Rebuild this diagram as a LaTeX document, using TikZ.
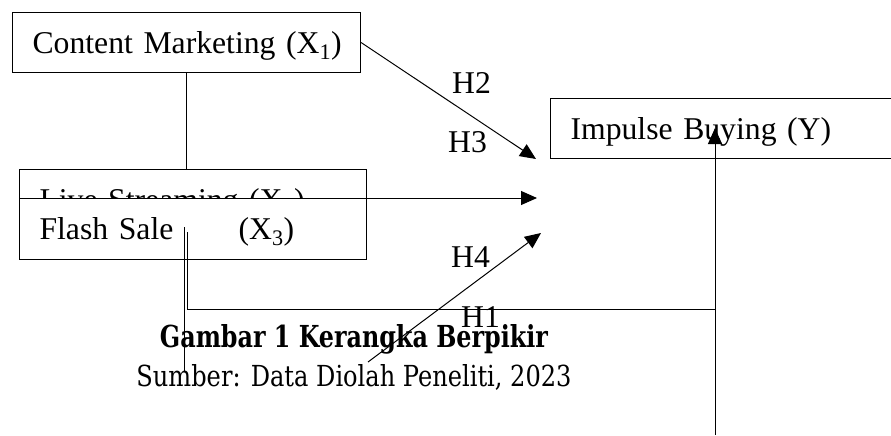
\documentclass[tikz,border=0pt]{standalone}
\usepackage{fontspec}
\setmainfont{Liberation Serif}
\newfontfamily\capfont{DejaVu Serif}
\usetikzlibrary{arrows.meta}
\begin{document}
\begin{tikzpicture}[x=1pt,y=-1pt,
  box/.style={draw=black,line width=1.1pt,fill=white,minimum height=60pt,inner xsep=20pt,inner ysep=0pt,
    align=left,text height=21pt,text depth=0pt,font=\fontsize{31.7}{38}\selectfont},
  lbl/.style={anchor=base west,inner sep=0pt,font=\fontsize{31.7}{38}\selectfont},
  conn/.style={draw=black,line width=1pt},
  arr/.style={conn,-{Triangle[length=16pt,width=14pt]}}]
\useasboundingbox (0,0) rectangle (891,436);
% boxes
\node[box,text width=308pt,anchor=north west] (cm) at (12,12) {\mbox{Content Marketing (X\textsubscript{1})}};
\node[box,text width=307pt,anchor=north west] (ls) at (19,169) {\mbox{Live Streaming (X\textsubscript{2})}};
\node[box,text width=307pt,anchor=north west,minimum height=61pt] (fs) at (19,198) {\mbox{\makebox[199pt][l]{Flash Sale}(X\textsubscript{3})}};
\node[box,text width=320pt,anchor=north west] (ib) at (550,98) {\mbox{Impulse Buying (Y)}};
% free ends
\coordinate (t2) at (536,159);
\coordinate (t3) at (537,198);
\coordinate (t4) at (541,233);
\coordinate (s4) at (368,362);
\coordinate (a1) at (184,227);
\coordinate (a2) at (184,372);
\coordinate (b1) at (187,232);
\coordinate (b2) at (187,309);
\coordinate (c1) at (715,309);
\coordinate (d1) at (715,435);
\coordinate (d2) at (715,128);
% connectors
\draw[conn] (cm.south) -- (cm.south |- ls.north);
\draw[arr] (cm.east) -- (t2);
\draw[arr] (ls.east |- t3) -- (t3);
\draw[arr] (s4) -- (t4);
\draw[conn] (a1) -- (a2);
\draw[conn] (b1) -- (b2) -- (c1);
\draw[arr] (d1) -- (d2);
% labels
\node[lbl] (h2) at (452,93) {H2};
\node[lbl] (h3) at (448,152) {H3};
\node[lbl] (h4) at (451,267) {H4};
\node[lbl] (h1) at (461,327) {H1};
% caption
\node[anchor=base,inner sep=0pt] (cap1) at (354,347) {\resizebox{388pt}{23pt}{\capfont\bfseries Gambar 1 Kerangka Berpikir}};
\node[anchor=base,inner sep=0pt] (cap2) at (354,386) {\resizebox{435pt}{22pt}{\capfont Sumber: Data Diolah Peneliti, 2023}};
\end{tikzpicture}
\end{document}
